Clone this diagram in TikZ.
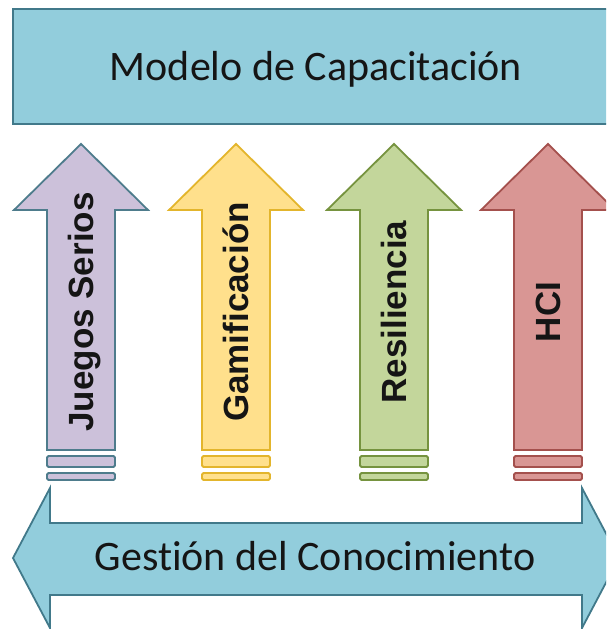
\documentclass[tikz,border=0pt]{standalone}
\usepackage{fontspec}
\setmainfont{Carlito}[Ligatures={NoCommon,NoContextual}]
\newfontfamily\labelfont{Liberation Sans}
\definecolor{aquafill}{HTML}{92CDDC}
\definecolor{aqualine}{HTML}{41798A}
\definecolor{purfill}{HTML}{CCC1DA}
\definecolor{purline}{HTML}{4E7C8C}
\definecolor{yelfill}{HTML}{FFE08C}
\definecolor{yelline}{HTML}{E3B52C}
\definecolor{grnfill}{HTML}{C3D69B}
\definecolor{grnline}{HTML}{76933F}
\definecolor{redfill}{HTML}{D99694}
\definecolor{redline}{HTML}{A4504D}
\definecolor{txt}{HTML}{151515}
\newcommand\uparrowshape[3]{%
  \draw[fill=#2, draw=#3, line width=1.8pt, line join=miter]
    (#1-34,450) -- (#1-34,210) -- (#1-67,210) -- (#1,144) -- (#1+67,210)
    -- (#1+34,210) -- (#1+34,450) -- cycle;
  \draw[fill=#2, draw=#3, line width=1.8pt, rounded corners=1.5pt]
    (#1-34,456) rectangle (#1+34,467);
  \draw[fill=#2, draw=#3, line width=1.8pt, rounded corners=1.5pt]
    (#1-34,473) rectangle (#1+34,480);
}
\begin{document}
\begin{tikzpicture}[x=1pt,y=-1pt,
  bigbox/.style={fill=aquafill, draw=aqualine, line width=1.8pt, line join=miter},
  bigtext/.style={anchor=base, text=txt, inner sep=0pt, font=\fontsize{42}{50}\selectfont},
  vlabel/.style={anchor=base, rotate=90, text=txt, inner sep=0pt,
    font=\labelfont\bfseries\fontsize{35}{40}\selectfont}]
\useasboundingbox (0,0) rectangle (606,629);
\clip (0,0) rectangle (606,629);
% top box
\draw[bigbox] (13,9) rectangle (625,124);
\node[bigtext] (modelo) at (316,80) {Modelo de Capacitación};
% up arrows
\uparrowshape{81}{purfill}{purline}
\uparrowshape{236}{yelfill}{yelline}
\uparrowshape{394}{grnfill}{grnline}
\uparrowshape{548}{redfill}{redline}
\node[vlabel] (juegos) at (93,312) {Juegos Serios};
\node[vlabel] (gami) at (248,312) {Gamificación};
\node[vlabel] (resil) at (406,312) {Resiliencia};
\node[vlabel] (hci) at (560,312) {HCI};
% bottom double arrow
\draw[bigbox] (13,558) -- (50,488) -- (50,523) -- (582,523) -- (582,488)
  -- (619,558) -- (582,628) -- (582,595) -- (50,595) -- (50,628) -- cycle;
\node[bigtext] (gestion) at (315,570) {Gestión del Conocimiento};
\end{tikzpicture}
\end{document}
